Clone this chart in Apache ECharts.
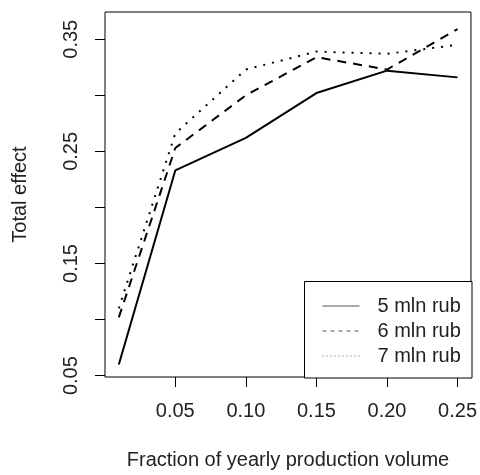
<!DOCTYPE html>
<html>
<head>
<meta charset="utf-8">
<script src="https://cdn.jsdelivr.net/npm/echarts@6/dist/echarts.min.js"></script>
<style>html,body{margin:0;padding:0;background:#fff}#c{width:480px;height:475px}</style>
</head>
<body>
<div id="c"></div>
<script>
var fractions = [0.01, 0.05, 0.10, 0.15, 0.20, 0.25];
var rub5 = [0.060, 0.233, 0.262, 0.302, 0.322, 0.316];
var rub6 = [0.102, 0.253, 0.300, 0.334, 0.323, 0.359];
var rub7 = [0.110, 0.266, 0.323, 0.339, 0.337, 0.345];
var seriesNames = ['5 mln rub', '6 mln rub', '7 mln rub'];
var xTicks = [0.05, 0.10, 0.15, 0.20, 0.25];
var yTicks = [0.05, 0.10, 0.15, 0.20, 0.25, 0.30, 0.35];
var yLabels = [0.05, 0.15, 0.25, 0.35];

var FONT = 'Liberation Sans';
function pairs(ys) { return fractions.map(function (x, i) { return [x, ys[i]]; }); }

var chart = echarts.init(document.getElementById('c'), null, {renderer: 'canvas'});
var lineTypes = ['solid', [9, 7], [2, 7]];
var legendTypes = ['solid', [4, 4], [1, 3]];
var seriesData = [rub5, rub6, rub7];
chart.setOption({
  animation: false,
  color: ['#000', '#000', '#000'],
  grid: {left: 105, top: 12, right: 8, bottom: 97, show: true, borderColor: '#000', borderWidth: 1, backgroundColor: 'transparent'},
  xAxis: {
    type: 'value', min: 0.0002, max: 0.2595,
    name: 'Fraction of yearly production volume', nameLocation: 'middle', nameGap: 73,
    nameTextStyle: {fontFamily: FONT, fontSize: 20, color: '#222'},
    axisLine: {show: false},
    axisTick: {show: true, inside: false, length: 10, lineStyle: {color: '#000', width: 1}, customValues: xTicks},
    axisLabel: {fontFamily: FONT, fontSize: 20, color: '#222', margin: 24, customValues: xTicks,
      formatter: function (v) { return v.toFixed(2); }},
    splitLine: {show: false}
  },
  yAxis: {
    type: 'value', min: 0.0488, max: 0.3743,
    name: 'Total effect', nameLocation: 'middle', nameGap: 75, nameRotate: 90,
    nameTextStyle: {fontFamily: FONT, fontSize: 20, color: '#222'},
    axisLine: {show: false},
    axisTick: {show: true, inside: false, length: 10, lineStyle: {color: '#000', width: 1}, customValues: yTicks},
    axisLabel: {fontFamily: FONT, fontSize: 20, color: '#222', margin: 24, rotate: 90, customValues: yLabels,
      formatter: function (v) { return v.toFixed(2); }},
    splitLine: {show: false}
  },
  legend: {
    orient: 'vertical', left: 322, top: 296, itemWidth: 37, itemHeight: 20, itemGap: 5,
    padding: 0, z: 10,
    itemStyle: {opacity: 0},
    textStyle: {fontFamily: FONT, fontSize: 20, color: '#222', padding: [0, 0, 0, 13]},
    data: seriesNames.map(function (n, i) {
      return {name: n, itemStyle: {opacity: 0}, lineStyle: {width: 1, color: '#555', type: legendTypes[i]}};
    })
  },
  graphic: [{
    type: 'rect', shape: {x: 304.5, y: 281.5, width: 167.5, height: 96.5},
    style: {fill: '#fff', stroke: '#000', lineWidth: 1}, z: 5
  }],
  series: seriesNames.map(function (n, i) {
    return {
      name: n, type: 'line', data: pairs(seriesData[i]), symbol: 'none', showSymbol: false,
      itemStyle: {color: '#000'},
      lineStyle: {color: '#000', width: 2, type: lineTypes[i]}, z: 2, silent: true
    };
  })
});
</script>
</body>
</html>
